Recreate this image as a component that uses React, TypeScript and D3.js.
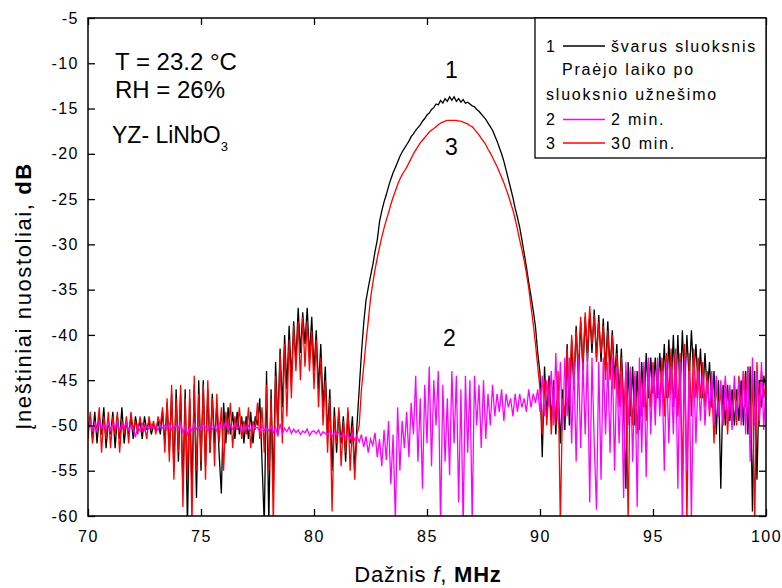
import { useRef, useEffect } from 'react';
import * as d3 from 'd3';

// frequency grid: 70 .. 100 MHz, 0.1 MHz per sample
const freqStart = 70;
const freqStep = 0.1;

// 1 - clean layer (black)
const cleanLayer = [
  -50.5, -49, -51.5, -48.5, -52, -49, -51, -48, -52.5, -49.5,
  -51, -48.5, -52.5, -49, -51.5, -48, -52, -49.5, -51, -49,
  -51.5, -49, -50.5, -49.5, -51.5, -49, -50.5, -49.5, -51, -50,
  -50.5, -49.5, -51, -48.5, -52, -47.5, -53, -46.5, -55, -46,
  -54, -46.5, -57, -46, -61, -47, -57, -45.5, -58, -45,
  -55, -45, -54.5, -46, -53, -46.5, -52, -47.5, -53, -57.5,
  -47.5, -52, -48, -51, -48.5, -51.5, -48.5, -51, -49, -52,
  -49, -51.5, -48.5, -52, -49, -50, -47, -54, -61, -44,
  -61, -46, -57, -43, -50, -41.5, -48, -40, -46, -39,
  -45, -38.5, -43, -37, -42, -37.5, -41, -37, -42.5, -38,
  -44, -39.5, -46, -41, -48, -43.5, -51, -46, -55, -48,
  -53, -48.5, -52, -49, -54, -48.5, -52, -49, -55, -50,
  -46, -42, -38.7, -36.2, -34.8, -33.5, -32.3, -30.8, -29.5, -27.5,
  -26.3, -25.3, -24.5, -23.6, -22.8, -22.1, -21.5, -20.9, -20.3, -19.8,
  -19.4, -19, -18.6, -18.1, -17.8, -17.4, -17.1, -16.8, -16.4, -16.1,
  -15.7, -15.5, -15.1, -14.9, -14.5, -14.6, -14.1, -14.4, -13.9, -14.2,
  -13.7, -14.1, -13.7, -14.2, -13.9, -14.3, -14, -14.4, -14.3, -14.5,
  -14.7, -14.8, -15.1, -15.3, -15.6, -15.9, -16.2, -16.6, -17, -17.4,
  -18, -18.6, -19.3, -20, -20.8, -21.8, -22.8, -23.8, -24.8, -26,
  -27, -28.1, -29.5, -31, -32.5, -34.2, -35.7, -37.3, -39.1, -42,
  -44.2, -53.5, -43.5, -49, -44.5, -49.5, -45, -51, -45.5, -52,
  -46, -50.5, -41, -50, -40.5, -46, -39, -45, -38.5, -44,
  -38, -43, -37.5, -42, -37.2, -42.5, -37.8, -43, -38.2, -44,
  -38.5, -44, -39.5, -45, -41, -47, -41.5, -48, -57, -43,
  -49, -43.5, -50, -44, -50.5, -43, -48, -42, -47, -42.5,
  -46.5, -42.5, -47, -42, -46, -41, -47, -40.5, -46, -40,
  -47, -40, -46.5, -39.5, -46, -40, -45, -39.5, -44.5, -41,
  -46, -41.5, -47, -42, -46.5, -43, -48, -44, -51, -45,
  -57, -45.5, -50, -45.5, -49.5, -46, -50, -46, -49.5, -45,
  -50, -44, -51, -43.5, -59.5, -44, -56, -45, -48, -44.5,
  -46,
];

// 2 - 2 min after deposition (magenta)
const after2min = [
  -50.2, -49.6, -50.5, -49.8, -50.6, -49.5, -50.3, -49.9, -50.4, -49.7,
  -50.5, -49.8, -50.3, -49.6, -50.6, -49.9, -50.2, -49.7, -50.5, -50,
  -50.4, -51.3, -50, -50.6, -49.8, -50.5, -50.1, -50.4, -49.9, -50.3,
  -50.1, -50.5, -49.9, -50.3, -50, -50.4, -49.8, -50.5, -50.2, -50,
  -50.3, -49.7, -50.8, -50.1, -51, -50.2, -50.6, -49.8, -50.4, -50.1,
  -50.5, -49.8, -50.2, -50.6, -49.9, -50.4, -50.1, -50.6, -49.7, -50.3,
  -50.2, -49.6, -50.5, -50, -50.4, -49.8, -50.3, -50.1, -50.6, -49.9,
  -50.4, -50, -50.6, -49.9, -50.3, -50.2, -50.7, -50, -50.5, -50.3,
  -50.6, -50.1, -50.8, -50.2, -51.2, -49.8, -50.9, -50.3, -50.7, -50.2,
  -50.9, -50.4, -50.8, -50.5, -51, -50.6, -50.8, -50.4, -51.1, -50.7,
  -50.6, -50.9, -50.5, -51.1, -50.7, -50.9, -51, -50.6, -51.2, -50.8,
  -51, -50.8, -51.3, -50.9, -51.2, -51, -51.5, -50.9, -51.6, -51.2,
  -51.8, -51, -52.4, -51.2, -53, -51.5, -52.2, -50.8, -53.5, -51.5,
  -54.5, -50.5, -53.8, -49.5, -56.5, -51, -60.5, -48, -55, -49.5,
  -52.5, -48.5, -53.5, -47.5, -51, -44.5, -54, -47, -57, -45.5,
  -52, -43.5, -54.5, -45, -50, -44, -61, -45.5, -54, -47,
  -55.5, -44, -52, -44.5, -58.5, -46, -61, -44.5, -53, -45,
  -60.5, -44.5, -50, -45.5, -52.5, -45, -51.5, -46.5, -50, -45.5,
  -49, -46.5, -48.5, -46, -49.5, -46.5, -48, -47, -49, -46.5,
  -48.5, -46.5, -48, -47, -48.5, -46, -48, -46.5, -47.5, -46,
  -48.5, -44.5, -49, -45, -48, -44, -50, -42, -49.5, -43,
  -50.5, -42.5, -49, -42.5, -52, -43, -54, -42.5, -52.5, -43,
  -51, -42, -58.5, -42.5, -52, -59.3, -43, -56, -42.5, -51,
  -43, -53, -42.5, -55, -43.5, -52, -44, -58, -43, -50,
  -43.5, -54, -44, -59, -42.5, -53, -43, -55.7, -42.5, -51,
  -43.5, -50, -42.5, -49, -44, -55, -43, -52, -43.5, -51,
  -42, -57, -43, -61, -42.5, -55, -44, -60.5, -43.5, -52,
  -44, -49.5, -44.5, -50, -45, -48.5, -44, -50, -44.5, -49,
  -45, -50, -44.5, -49.5, -45.5, -50.5, -44.5, -49, -45, -50,
  -44, -51, -43.5, -54, -42.5, -50, -44, -49.5, -43, -50.5,
  -45,
];

// 3 - 30 min after deposition (red)
const after30min = [
  -51.5, -48.5, -52, -49.5, -50.5, -48, -53, -49, -51.5, -48.5,
  -52.5, -49, -51, -48.5, -53, -49.5, -51, -49, -52, -48.5,
  -50.5, -49.5, -51, -49, -50.5, -50, -51.5, -49, -50.5, -49.5,
  -51, -49, -50, -48, -53, -47, -54, -45.5, -56, -47,
  -53, -45.5, -59, -47, -56, -46, -61, -44.5, -55, -46.5,
  -54, -45.5, -56, -45, -53, -47, -54.5, -46.5, -52, -48,
  -55, -48.5, -51, -47.5, -52.5, -49, -50.5, -48, -51.5, -49.5,
  -51, -48, -52.5, -49.5, -50.5, -47.5, -51.5, -48, -53, -45.5,
  -55, -47, -61, -44.5, -51, -42, -52, -41, -49, -40.5,
  -47, -39, -44, -38.5, -45, -38, -43.5, -38.5, -44, -39.5,
  -46, -40.5, -48, -42.5, -50, -45, -53, -47, -59.5, -49,
  -52, -48, -54.5, -49.5, -53, -48, -55, -50, -56, -51,
  -50, -46, -43.5, -40.8, -38.5, -36, -34.3, -32.8, -31.5, -30.3,
  -29.2, -28.2, -27.3, -26.5, -25.6, -24.8, -24.1, -23.4, -22.8, -22.3,
  -21.9, -21.5, -21, -20.5, -20, -19.6, -19.2, -18.8, -18.5, -18.2,
  -17.9, -17.6, -17.4, -17.2, -17, -16.8, -16.6, -16.5, -16.4, -16.3,
  -16.3, -16.3, -16.3, -16.3, -16.4, -16.4, -16.5, -16.6, -16.7, -16.9,
  -17, -17.3, -17.6, -17.9, -18.3, -18.6, -19, -19.5, -19.9, -20.4,
  -20.9, -21.4, -22, -22.6, -23.2, -23.9, -24.6, -25.4, -26.2, -27.2,
  -28.3, -29.5, -30.6, -31.8, -33.2, -34.8, -36.8, -38.8, -41, -43.5,
  -46, -51, -45, -50, -45, -51, -46, -50, -44, -61,
  -47, -49, -41.5, -48, -40, -45, -39.5, -44, -38, -43.5,
  -37.5, -42, -36.8, -41, -37.8, -43, -38.5, -42, -39, -45,
  -39.5, -45, -40, -46, -42, -48, -42.5, -49, -44, -60.5,
  -44, -50, -44.5, -51, -44, -49, -43.5, -49.5, -43, -48,
  -43, -48, -44, -47.5, -42.5, -49, -42, -47, -41.5, -48,
  -41.5, -49, -42, -56, -41, -61, -42, -49, -41.5, -47,
  -42.5, -47, -43, -48, -44, -49, -45, -52, -45, -49,
  -46, -50, -45, -51, -46, -50, -45.5, -50, -44.5, -49,
  -44, -48, -43.5, -52, -44, -61, -43, -50, -44, -47,
  -45,
];

const xTicks = [70, 75, 80, 85, 90, 95, 100];
const yTicks = [-5, -10, -15, -20, -25, -30, -35, -40, -45, -50, -55, -60];

const seriesColors = ['#000000', '#ff0000', '#ff00ff'];
const legendNumbers = ['1', '2', '3'];
const legendLabels = ['švarus sluoksnis', '2 min.', '30 min.'];
const legendNote = ['Praėjo laiko po', 'sluoksnio užnešimo'];

const FONT = "'Liberation Sans', Arial, sans-serif";

const App = () => {
  const svgRef = useRef<SVGSVGElement>(null);

  useEffect(() => {
    const width = 782;
    const height = 588;
    const left = 88;
    const right = 766;
    const top = 18;
    const bottom = 516;

    const xScale = d3.scaleLinear([70, 100], [left, right]);
    const yScale = d3.scaleLinear([-5, -60], [top, bottom]);
    const freqs = cleanLayer.map((_, i) => freqStart + i * freqStep);

    const svg = d3.select(svgRef.current);
    svg.selectAll('*').remove();
    svg.attr('width', width).attr('height', height).attr('viewBox', [0, 0, width, height]);

    svg.append('rect').attr('width', width).attr('height', height).attr('fill', '#fff');

    svg
      .append('defs')
      .append('clipPath')
      .attr('id', 'plot-clip')
      .append('rect')
      .attr('x', left)
      .attr('y', top)
      .attr('width', right - left)
      .attr('height', bottom - top);

    const line = d3
      .line<number>()
      .x((_, i) => xScale(freqs[i]))
      .y((d) => yScale(d));

    // black first, then red, magenta on top
    const g = svg.append('g').attr('clip-path', 'url(#plot-clip)');
    [cleanLayer, after30min, after2min].forEach((values, k) => {
      g.append('path')
        .attr('fill', 'none')
        .attr('stroke', seriesColors[k])
        .attr('stroke-width', 1.3)
        .attr('d', line(values));
    });

    // axes, ticks pointing inward
    const styleAxis = (sel) => {
      sel.select('.domain').remove();
      sel.selectAll('.tick line').attr('stroke', '#000').attr('stroke-width', 1.3);
      sel
        .selectAll('.tick text')
        .attr('font-family', FONT)
        .attr('font-size', 16)
        .attr('letter-spacing', 1.5)
        .attr('fill', '#000');
    };

    svg
      .append('g')
      .attr('transform', `translate(0,${bottom})`)
      .call(d3.axisBottom(xScale).tickValues(xTicks).tickSize(-7).tickPadding(15).tickFormat((d) => String(d)))
      .call(styleAxis);
    svg
      .append('g')
      .attr('transform', `translate(0,${top})`)
      .call(d3.axisTop(xScale).tickValues(xTicks).tickSize(-7).tickFormat(() => ''))
      .call(styleAxis);
    svg
      .append('g')
      .attr('transform', `translate(${left},0)`)
      .call(d3.axisLeft(yScale).tickValues(yTicks).tickSize(-7).tickPadding(9).tickFormat((d) => String(d)))
      .call(styleAxis);
    svg
      .append('g')
      .attr('transform', `translate(${right},0)`)
      .call(d3.axisRight(yScale).tickValues(yTicks).tickSize(-7).tickFormat(() => ''))
      .call(styleAxis);

    svg
      .append('rect')
      .attr('x', left)
      .attr('y', top)
      .attr('width', right - left)
      .attr('height', bottom - top)
      .attr('fill', 'none')
      .attr('stroke', '#000')
      .attr('stroke-width', 1.5);

    // axis titles
    const xTitle = svg
      .append('text')
      .attr('x', 428)
      .attr('y', 582)
      .attr('text-anchor', 'middle')
      .attr('font-family', FONT)
      .attr('font-size', 22)
      .attr('letter-spacing', 0.8);
    xTitle.append('tspan').text('Dažnis ');
    xTitle.append('tspan').attr('font-style', 'italic').text('f');
    xTitle.append('tspan').text(', ');
    xTitle.append('tspan').attr('font-weight', 'bold').text('MHz');

    const yTitle = svg
      .append('text')
      .attr('transform', 'translate(31,296) rotate(-90)')
      .attr('text-anchor', 'middle')
      .attr('font-family', FONT)
      .attr('font-size', 22)
      .attr('letter-spacing', 1.6);
    yTitle.append('tspan').text('Įneštiniai nuostoliai, ');
    yTitle.append('tspan').attr('font-weight', 'bold').text('dB');

    // conditions
    const note = (x, y, s, size = 24) =>
      svg
        .append('text')
        .attr('x', x)
        .attr('y', y)
        .attr('font-family', FONT)
        .attr('font-size', size)
        .text(s);
    note(115, 70, 'T = 23.2 °C');
    note(115, 98, 'RH = 26%');
    const yz = note(112, 143, 'YZ- LiNbO', 23);
    yz.append('tspan').attr('font-size', 13).attr('dy', 8).text('3');

    // curve numbers
    note(445, 78, '1', 23);
    note(445, 155, '3', 23);
    note(443, 346, '2', 23);

    // legend
    const lg = svg.append('g').attr('font-family', FONT).attr('font-size', 16);
    lg.append('rect')
      .attr('x', 535)
      .attr('y', top)
      .attr('width', right - 535)
      .attr('height', 140)
      .attr('fill', '#fff')
      .attr('stroke', '#000')
      .attr('stroke-width', 1.3);
    const rowY = [51.5, 125, 148.5];
    const rowColor = [seriesColors[0], seriesColors[2], seriesColors[1]];
    rowY.forEach((yy, k) => {
      lg.append('text').attr('x', 546).attr('y', yy).text(legendNumbers[k]);
      lg.append('line')
        .attr('x1', 563)
        .attr('x2', 605)
        .attr('y1', yy - 5.5)
        .attr('y2', yy - 5.5)
        .attr('stroke', rowColor[k])
        .attr('stroke-width', 1.3);
      lg.append('text').attr('x', 611).attr('y', yy).attr('letter-spacing', 1.8).text(legendLabels[k]);
    });
    lg.append('text').attr('x', 562).attr('y', 75).attr('letter-spacing', 1.8).text(legendNote[0]);
    lg.append('text').attr('x', 546).attr('y', 99.5).attr('letter-spacing', 1.8).text(legendNote[1]);
  }, []);

  return <svg ref={svgRef} style={{ position: 'absolute', left: 0, top: 0 }} />;
};

export default App;
